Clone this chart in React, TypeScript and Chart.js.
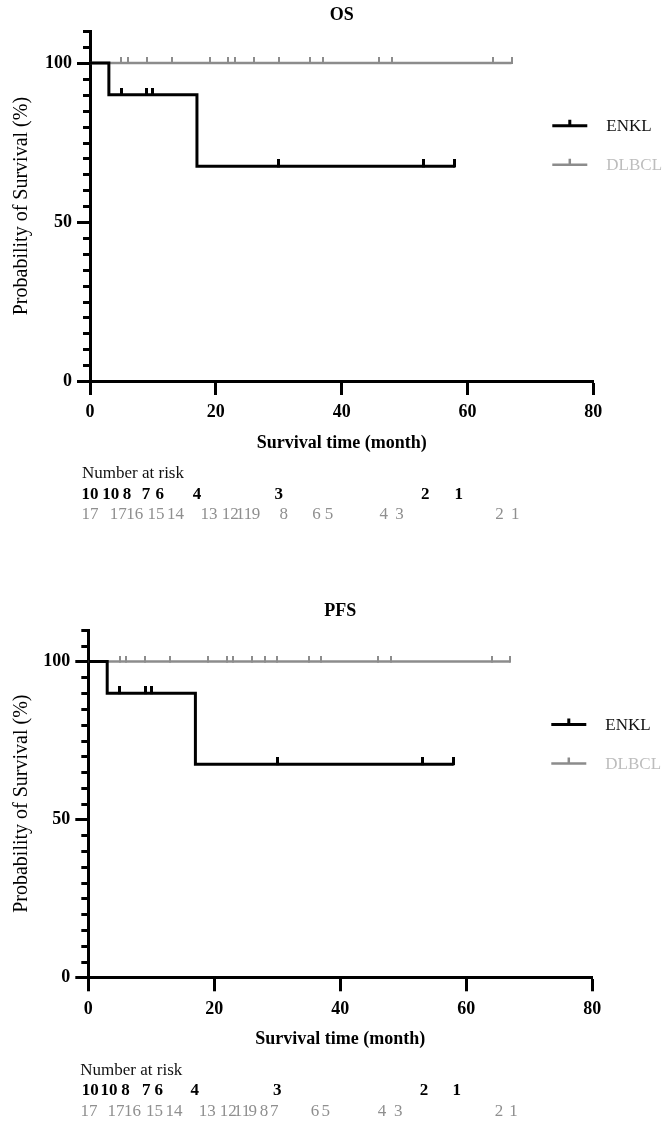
import React, { useEffect, useRef } from 'react';
import { Chart, registerables } from 'chart.js';

Chart.register(...registerables);

const FONT = '"Liberation Serif", "Times New Roman", Times, serif';

// ---------- data ----------
const seriesNames = ['ENKL', 'DLBCL'];
const seriesColors = ['#000000', '#8c8c8c'];
const legendTextColors = ['#111111', '#bdbdbd'];
const riskTextColors = ['#000000', '#8f8f8f'];

const xTickValues = [0, 20, 40, 60, 80];
const yMajorTicks = [0, 50, 100];

// OS panel
const osEnklTimes = [0, 3, 17, 58];
const osEnklSurv = [100, 90, 67.5, 67.5];
const osEnklCensorTimes = [5, 9, 10, 30, 53, 58];
const osEnklCensorSurv = [90, 90, 90, 67.5, 67.5, 67.5];
const osDlbclTimes = [0, 67];
const osDlbclSurv = [100, 100];
const osDlbclCensorTimes = [5, 6, 9, 13, 19, 22, 23, 26, 30, 35, 37, 46, 48, 64, 67];
const osDlbclCensorSurv = [100, 100, 100, 100, 100, 100, 100, 100, 100, 100, 100, 100, 100, 100, 100];
const osEnklRiskTimes = [0, 3.3, 5.9, 8.9, 11.1, 17, 30, 53.3, 58.6];
const osEnklRisk = [10, 10, 8, 7, 6, 4, 3, 2, 1];
const osDlbclRiskTimes = [0, 4.5, 7.1, 10.5, 13.6, 18.9, 22.3, 24.5, 26.4, 30.8, 36.0, 38.0, 46.7, 49.2, 65.1, 67.6];
const osDlbclRisk = [17, 17, 16, 15, 14, 13, 12, 11, 9, 8, 6, 5, 4, 3, 2, 1];

// PFS panel
const pfsEnklTimes = [0, 3, 17, 58];
const pfsEnklSurv = [100, 90, 67.5, 67.5];
const pfsEnklCensorTimes = [5, 9, 10, 30, 53, 58];
const pfsEnklCensorSurv = [90, 90, 90, 67.5, 67.5, 67.5];
const pfsDlbclTimes = [0, 67];
const pfsDlbclSurv = [100, 100];
const pfsDlbclCensorTimes = [5, 6, 9, 13, 19, 22, 23, 26, 28, 30, 35, 37, 46, 48, 64, 67];
const pfsDlbclCensorSurv = [100, 100, 100, 100, 100, 100, 100, 100, 100, 100, 100, 100, 100, 100, 100, 100];
const pfsEnklRiskTimes = [0.3, 3.3, 5.9, 9.2, 11.2, 16.9, 30, 53.3, 58.5];
const pfsEnklRisk = [10, 10, 8, 7, 6, 4, 3, 2, 1];
const pfsDlbclRiskTimes = [0.1, 4.4, 7.0, 10.5, 13.6, 18.9, 22.2, 24.4, 26.1, 27.9, 29.5, 36.0, 37.7, 46.6, 49.2, 65.2, 67.5];
const pfsDlbclRisk = [17, 17, 16, 15, 14, 13, 12, 11, 9, 8, 7, 6, 5, 4, 3, 2, 1];

type PanelData = {
  title: string;
  curves: { t: number[]; s: number[] }[];
  censors: { t: number[]; s: number[] }[];
  risk: { t: number[]; n: number[] }[];
};

const panels: PanelData[] = [
  {
    title: 'OS',
    curves: [
      { t: osEnklTimes, s: osEnklSurv },
      { t: osDlbclTimes, s: osDlbclSurv },
    ],
    censors: [
      { t: osEnklCensorTimes, s: osEnklCensorSurv },
      { t: osDlbclCensorTimes, s: osDlbclCensorSurv },
    ],
    risk: [
      { t: osEnklRiskTimes, n: osEnklRisk },
      { t: osDlbclRiskTimes, n: osDlbclRisk },
    ],
  },
  {
    title: 'PFS',
    curves: [
      { t: pfsEnklTimes, s: pfsEnklSurv },
      { t: pfsDlbclTimes, s: pfsDlbclSurv },
    ],
    censors: [
      { t: pfsEnklCensorTimes, s: pfsEnklCensorSurv },
      { t: pfsDlbclCensorTimes, s: pfsDlbclCensorSurv },
    ],
    risk: [
      { t: pfsEnklRiskTimes, n: pfsEnklRisk },
      { t: pfsDlbclRiskTimes, n: pfsDlbclRisk },
    ],
  },
];

// ---------- layout ----------
type Layout = { top: number; height: number; areaTop: number; areaBottom: number; areaLeft: number; areaRight: number; titleY: number };
const layouts: Layout[] = [
  { top: 0, height: 560, areaTop: 31.2, areaBottom: 381, areaLeft: 90, areaRight: 593.3, titleY: 15 },
  { top: 560, height: 564, areaTop: 70, areaBottom: 417.3, areaLeft: 88.3, areaRight: 592.3, titleY: 51.7 },
];

const WIDTH = 667;
const X_AXIS_H = 75;

function censorImage(color: string, w: number, h: number) {
  const c = document.createElement('canvas');
  c.width = w;
  c.height = h * 2;
  const g = c.getContext('2d')!;
  g.fillStyle = color;
  g.fillRect(0, 0, w, h + 1);
  return c;
}

const kmExtras = {
  id: 'kmExtras',
  afterDraw(chart: any, _args: any, opts: any) {
    const ctx = chart.ctx as CanvasRenderingContext2D;
    const area = chart.chartArea;
    const xs = chart.scales.x;
    const ys = chart.scales.y;
    ctx.save();
    // minor y ticks
    ctx.strokeStyle = '#000';
    ctx.lineWidth = 3;
    for (let v = 0; v <= 110; v += 5) {
      if (yMajorTicks.includes(v)) continue;
      const py = Math.round(ys.getPixelForValue(v)) + 0.5;
      ctx.beginPath();
      ctx.moveTo(area.left - 7, py);
      ctx.lineTo(area.left, py);
      ctx.stroke();
    }
    // legend
    const legendYs = [area.top + 94.5, area.top + 133.5];
    seriesNames.forEach((name, i) => {
      const y = legendYs[i];
      const x1 = area.right - 41;
      const x2 = area.right - 6;
      ctx.strokeStyle = seriesColors[i];
      ctx.lineWidth = i === 0 ? 3 : 2.5;
      ctx.beginPath();
      ctx.moveTo(x1, y);
      ctx.lineTo(x2, y);
      ctx.moveTo((x1 + x2) / 2, y);
      ctx.lineTo((x1 + x2) / 2, y - 6);
      ctx.stroke();
      ctx.fillStyle = legendTextColors[i];
      ctx.font = `17px ${FONT}`;
      ctx.textAlign = 'left';
      ctx.textBaseline = 'middle';
      ctx.fillText(name, area.right + 13, y + 1);
    });
    // number at risk
    const risk = opts.risk as { t: number[]; n: number[] }[];
    ctx.fillStyle = '#111';
    ctx.font = `17px ${FONT}`;
    ctx.textAlign = 'left';
    ctx.textBaseline = 'middle';
    ctx.fillText('Number at risk', area.left - 8, area.bottom + 93);
    const rowYs = [area.bottom + 113.5, area.bottom + 134];
    risk.forEach((row, i) => {
      ctx.fillStyle = riskTextColors[i];
      ctx.font = `${i === 0 ? 'bold ' : ''}17px ${FONT}`;
      ctx.textAlign = 'center';
      row.t.forEach((t, j) => {
        ctx.fillText(String(row.n[j]), xs.getPixelForValue(t), rowYs[i]);
      });
    });
    ctx.restore();
  },
};

function buildConfig(p: PanelData, L: Layout): any {
  const datasets: any[] = [];
  p.curves.forEach((c, i) => {
    datasets.push({
      label: seriesNames[i],
      data: c.t.map((t, j) => ({ x: t, y: c.s[j] })),
      borderColor: seriesColors[i],
      backgroundColor: seriesColors[i],
      borderWidth: i === 0 ? 3 : 2.5,
      stepped: 'before',
      pointRadius: 0,
      fill: false,
      order: i === 0 ? 0 : 2,
    });
  });
  p.censors.forEach((c, i) => {
    datasets.push({
      label: seriesNames[i] + ' censored',
      data: c.t.map((t, j) => ({ x: t, y: c.s[j] })),
      showLine: false,
      pointStyle: censorImage(seriesColors[i], i === 0 ? 3 : 2, i === 0 ? 7 : 6),
      pointRadius: 3,
      borderColor: seriesColors[i],
      backgroundColor: seriesColors[i],
      order: i === 0 ? 0 : 2,
    });
  });

  const titleLH = 18 * 1.2;
  const titlePadTop = L.titleY - titleLH / 2;
  const titlePadBottom = L.areaTop - titlePadTop - titleLH;

  return {
    type: 'line',
    data: { datasets },
    plugins: [kmExtras],
    options: {
      responsive: false,
      animation: false,
      devicePixelRatio: 1,
      events: [],
      layout: {
        padding: {
          left: 0,
          top: 0,
          right: WIDTH - L.areaRight,
          bottom: L.height - L.areaBottom - X_AXIS_H,
        },
      },
      plugins: {
        legend: { display: false },
        tooltip: { enabled: false },
        title: {
          display: true,
          text: p.title,
          fullSize: false,
          color: '#000',
          font: { family: FONT, size: 18, weight: 'bold', lineHeight: 1.2 },
          padding: { top: titlePadTop, bottom: titlePadBottom },
        },
        kmExtras: { risk: p.risk },
      },
      scales: {
        x: {
          type: 'linear',
          min: 0,
          max: 80,
          afterBuildTicks: (scale: any) => {
            scale.ticks = xTickValues.map((v) => ({ value: v }));
          },
          afterFit: (scale: any) => {
            scale.height = X_AXIS_H;
          },
          ticks: {
            color: '#000',
            padding: 7,
            autoSkip: false,
            maxRotation: 0,
            font: { family: FONT, size: 18, weight: 'bold', lineHeight: 1.2 },
          },
          grid: {
            drawOnChartArea: false,
            drawTicks: true,
            tickLength: 14,
            tickWidth: 3,
            tickColor: '#000',
          },
          border: { display: true, color: '#000', width: 3 },
          title: {
            display: true,
            text: 'Survival time (month)',
            color: '#000',
            font: { family: FONT, size: 18, weight: 'bold', lineHeight: 1.2 },
            padding: { top: 0, bottom: 2.2 },
          },
        },
        y: {
          type: 'linear',
          min: 0,
          max: 110,
          afterFit: (scale: any) => {
            scale.width = L.areaLeft;
          },
          ticks: {
            stepSize: 5,
            autoSkip: false,
            color: '#000',
            padding: 5,
            font: { family: FONT, size: 18, weight: 'bold', lineHeight: 1.2 },
            callback: (v: any) => (yMajorTicks.includes(Number(v)) ? String(v) : ''),
          },
          grid: {
            drawOnChartArea: false,
            drawTicks: true,
            tickLength: 13,
            tickWidth: 3,
            tickColor: (ctx: any) => (ctx.tick && yMajorTicks.includes(ctx.tick.value) ? '#000' : 'rgba(0,0,0,0)'),
          },
          border: { display: true, color: '#000', width: 3 },
          title: {
            display: true,
            text: 'Probability of Survival (%)',
            color: '#000',
            font: { family: FONT, size: 20, weight: 'normal', lineHeight: 1.2 },
            padding: { top: 10, bottom: 0 },
          },
        },
      },
    },
  };
}

function KMPanel({ p, L }: { p: PanelData; L: Layout }) {
  const ref = useRef<HTMLCanvasElement | null>(null);
  useEffect(() => {
    if (!ref.current) return;
    const chart = new Chart(ref.current, buildConfig(p, L));
    return () => chart.destroy();
  }, [p, L]);
  return (
    <canvas
      ref={ref}
      width={WIDTH}
      height={L.height}
      style={{ position: 'absolute', left: 0, top: L.top, width: WIDTH, height: L.height }}
    />
  );
}

export default function App() {
  return (
    <div style={{ position: 'absolute', left: 0, top: 0, width: WIDTH, height: 1124, background: '#fff' }}>
      {panels.map((p, i) => (
        <KMPanel key={p.title} p={p} L={layouts[i]} />
      ))}
    </div>
  );
}
